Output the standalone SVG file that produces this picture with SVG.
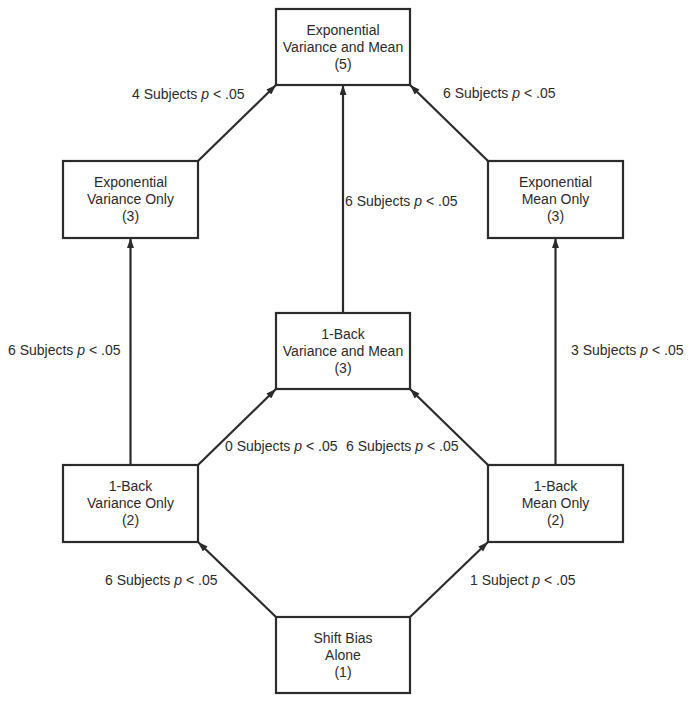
<svg xmlns="http://www.w3.org/2000/svg" width="690" height="704" viewBox="0 0 690 704">
<style>
.box{fill:#fff;stroke:#2b2b2b;stroke-width:2.2}
.t{font-family:"Liberation Sans",Arial,sans-serif;font-size:14px;fill:#2b2b2b;text-anchor:middle}
.l{font-family:"Liberation Sans",Arial,sans-serif;font-size:14px;fill:#2b2b2b}
.e{stroke:#2b2b2b;stroke-width:2.2;fill:none;marker-end:url(#ah)}
</style>
<defs>
<marker id="ah" markerUnits="userSpaceOnUse" markerWidth="10" markerHeight="7" refX="10" refY="3.5" orient="auto">
<path d="M0,0 L10,3.5 L0,7 z" fill="#2b2b2b"/>
</marker>
</defs>
<rect width="690" height="704" fill="#fff"/>
<g id="connectors">
<line class="e" x1="198" y1="161" x2="276" y2="85"/>
<line class="e" x1="488" y1="161" x2="410" y2="85"/>
<line class="e" x1="343" y1="313" x2="343" y2="85"/>
<line class="e" x1="130.5" y1="465" x2="130.5" y2="238"/>
<line class="e" x1="555.5" y1="465" x2="555.5" y2="238"/>
<line class="e" x1="198" y1="465" x2="276" y2="389"/>
<line class="e" x1="488" y1="465" x2="410" y2="389"/>
<line class="e" x1="276" y1="617" x2="198" y2="542"/>
<line class="e" x1="410" y1="617" x2="488" y2="542"/>
</g>
<g id="labels">
<text class="l" x="132" y="99">4 Subjects <tspan font-style="italic">p</tspan> &lt; .05</text>
<text class="l" x="443" y="98">6 Subjects <tspan font-style="italic">p</tspan> &lt; .05</text>
<text class="l" x="345" y="206">6 Subjects <tspan font-style="italic">p</tspan> &lt; .05</text>
<text class="l" x="8" y="355">6 Subjects <tspan font-style="italic">p</tspan> &lt; .05</text>
<text class="l" x="571" y="355">3 Subjects <tspan font-style="italic">p</tspan> &lt; .05</text>
<text class="l" x="225" y="451">0 Subjects <tspan font-style="italic">p</tspan> &lt; .05</text>
<text class="l" x="346" y="451">6 Subjects <tspan font-style="italic">p</tspan> &lt; .05</text>
<text class="l" x="105" y="585">6 Subjects <tspan font-style="italic">p</tspan> &lt; .05</text>
<text class="l" x="470" y="585">1 Subject <tspan font-style="italic">p</tspan> &lt; .05</text>
</g>
<g id="expVarMean">
<rect class="box" x="276" y="9" width="134" height="76"/>
<text class="t" x="343" y="35">Exponential</text>
<text class="t" x="343" y="52">Variance and Mean</text>
<text class="t" x="343" y="69">(5)</text>
</g>
<g id="expVarOnly">
<rect class="box" x="63" y="161" width="135" height="77"/>
<text class="t" x="130.5" y="187">Exponential</text>
<text class="t" x="130.5" y="204">Variance Only</text>
<text class="t" x="130.5" y="221">(3)</text>
</g>
<g id="expMeanOnly">
<rect class="box" x="488" y="161" width="135" height="77"/>
<text class="t" x="555.5" y="187">Exponential</text>
<text class="t" x="555.5" y="204">Mean Only</text>
<text class="t" x="555.5" y="221">(3)</text>
</g>
<g id="backVarMean">
<rect class="box" x="276" y="313" width="134" height="76"/>
<text class="t" x="343" y="339">1-Back</text>
<text class="t" x="343" y="356">Variance and Mean</text>
<text class="t" x="343" y="373">(3)</text>
</g>
<g id="backVarOnly">
<rect class="box" x="63" y="465" width="135" height="77"/>
<text class="t" x="130.5" y="491">1-Back</text>
<text class="t" x="130.5" y="508">Variance Only</text>
<text class="t" x="130.5" y="525">(2)</text>
</g>
<g id="backMeanOnly">
<rect class="box" x="488" y="465" width="135" height="77"/>
<text class="t" x="555.5" y="491">1-Back</text>
<text class="t" x="555.5" y="508">Mean Only</text>
<text class="t" x="555.5" y="525">(2)</text>
</g>
<g id="shiftBias">
<rect class="box" x="276" y="617" width="134" height="76"/>
<text class="t" x="343" y="643">Shift Bias</text>
<text class="t" x="343" y="660">Alone</text>
<text class="t" x="343" y="677">(1)</text>
</g>
</svg>
